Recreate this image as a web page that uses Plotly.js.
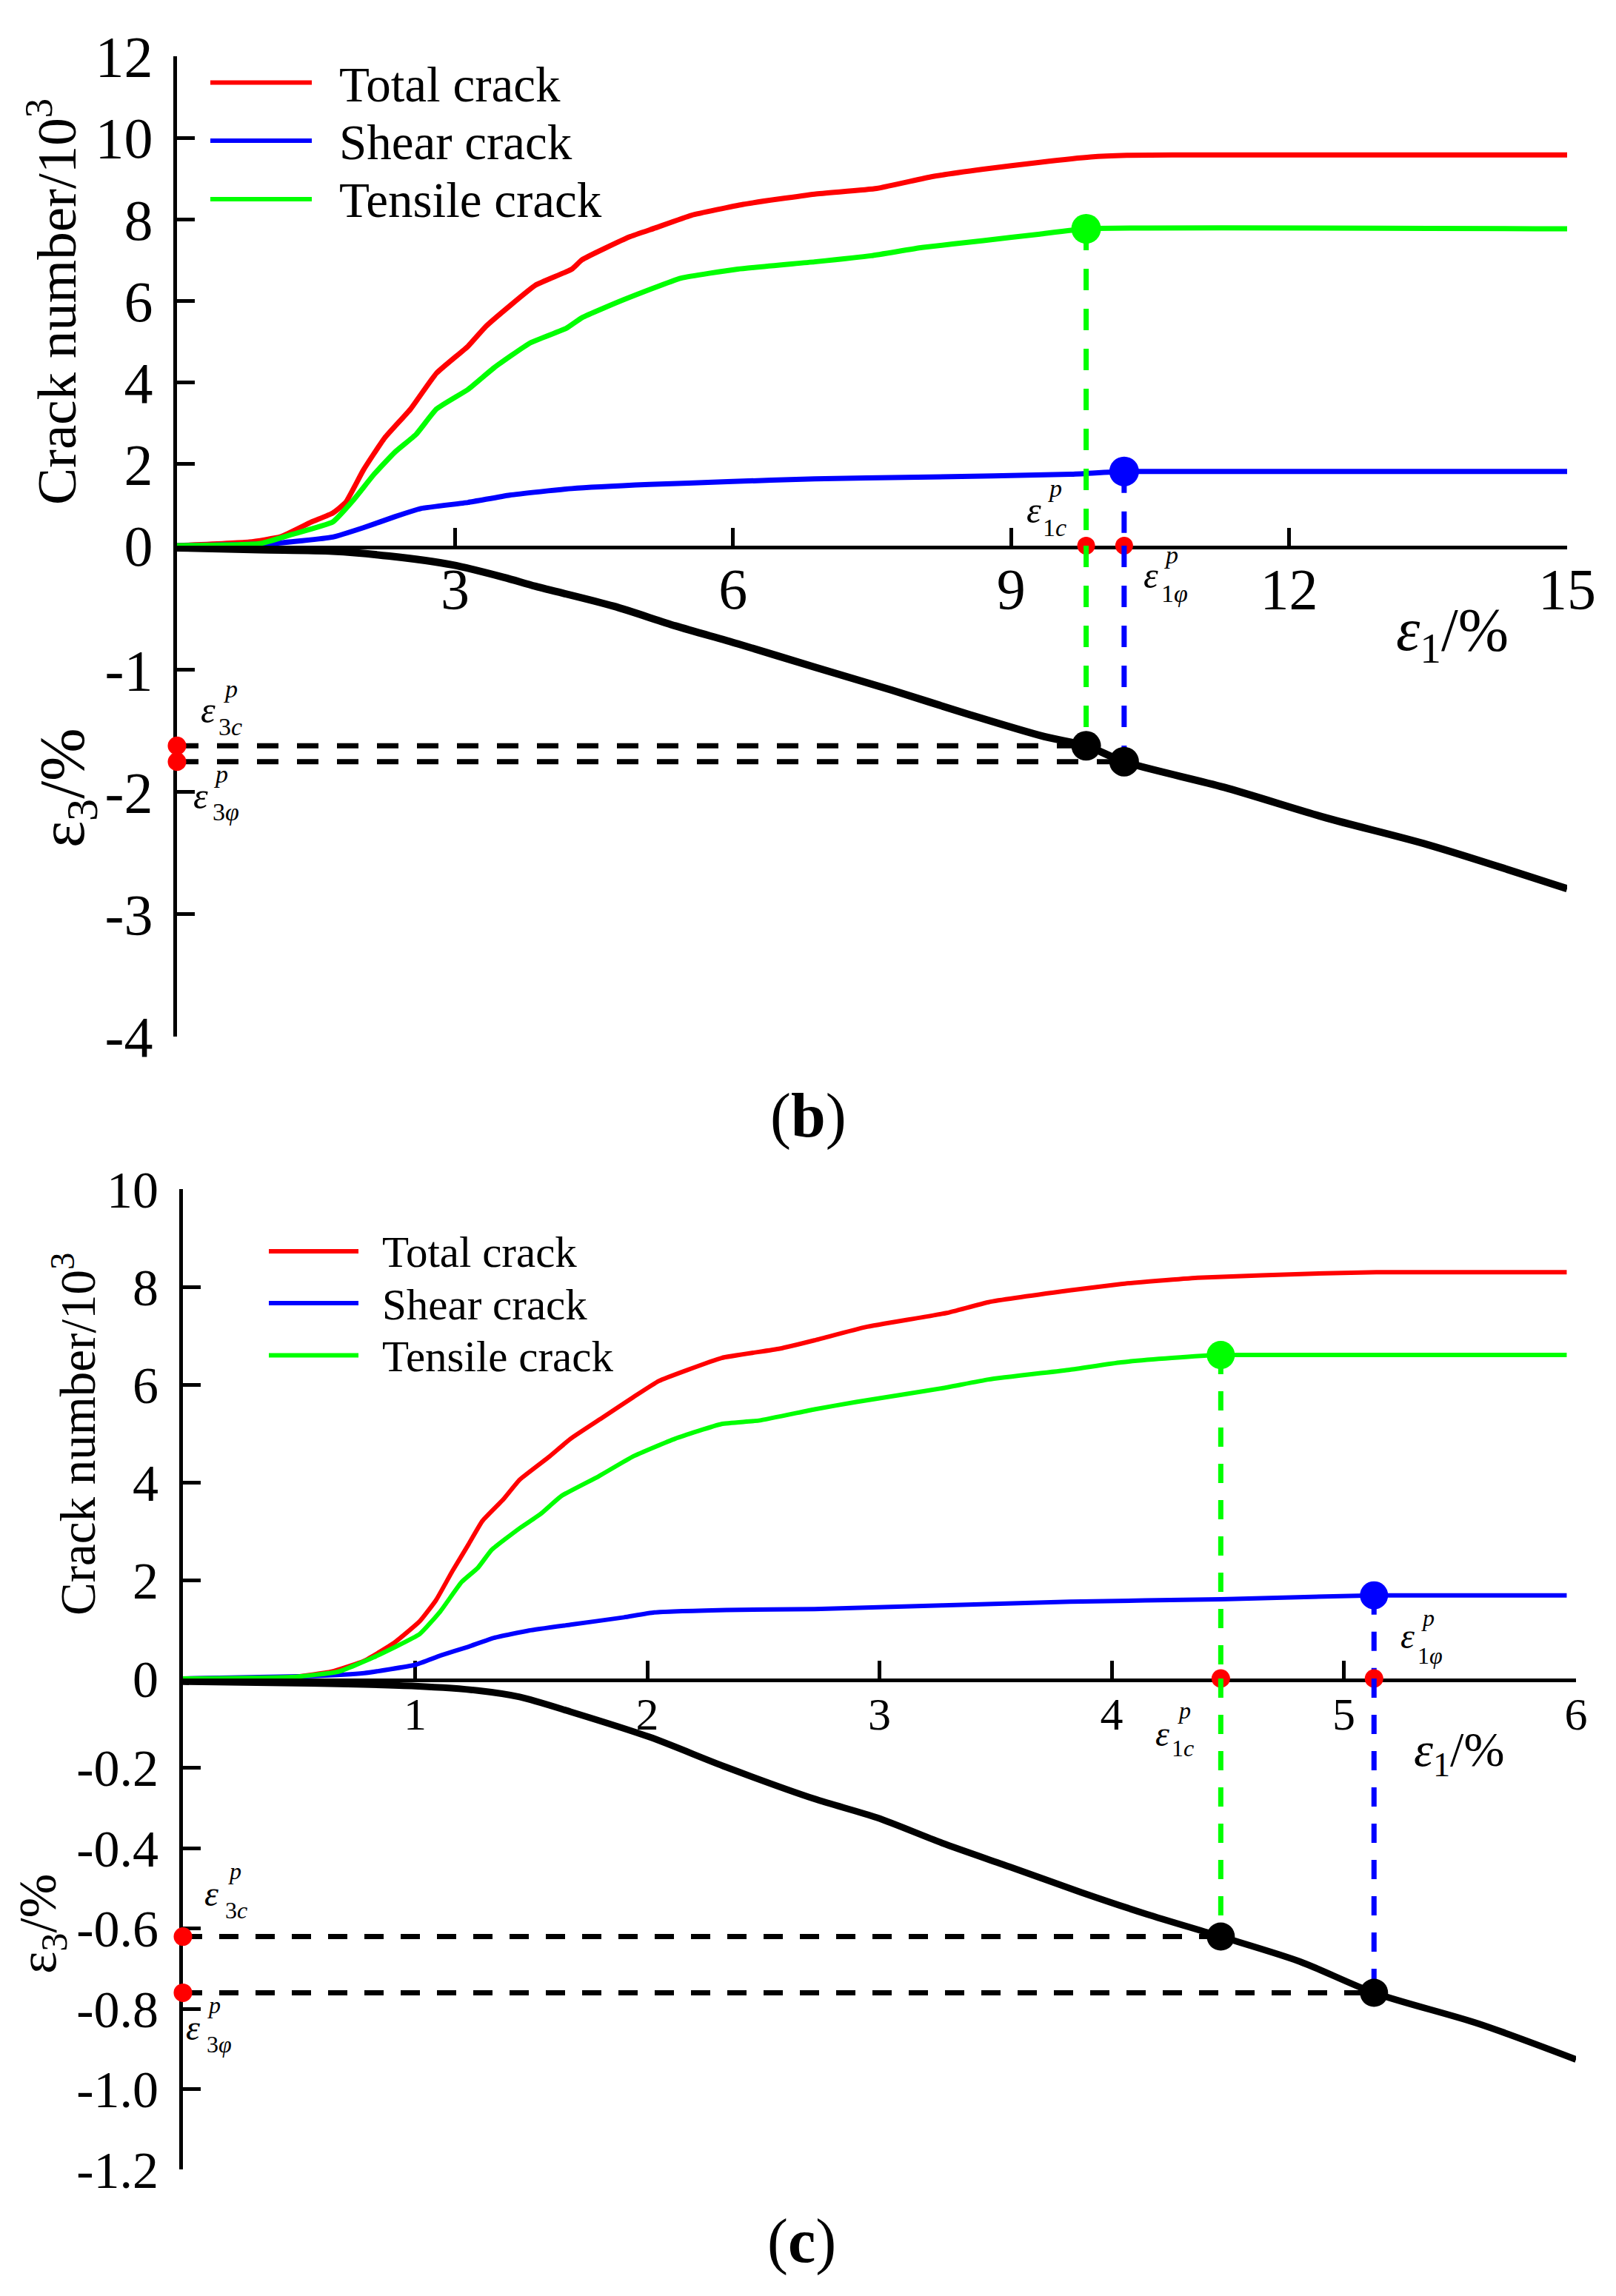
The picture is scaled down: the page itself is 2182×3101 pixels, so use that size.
<!DOCTYPE html>
<html>
<head>
<meta charset="utf-8">
<title>Crack number and lateral strain versus axial strain</title>
<script src="https://cdn.plot.ly/plotly-3.0.1.min.js"></script>
<style>
  html, body { margin: 0; padding: 0; background: #ffffff; }
  #chart { width: 2182px; height: 3101px; }
</style>
</head>
<body>
<div id="chart"></div>
<script>
// ---------- Series names and colours ----------
const seriesNames = ['Total crack', 'Shear crack', 'Tensile crack'];
const seriesColors = ['#ff0000', '#0000ff', '#00ff00'];
const strainColor = '#000000';
const pointColor = '#ff0000';

// ---------- Panel (b): axial strain 0-15 % ----------
const bTotalX = [0, 0.78, 1.12, 1.45, 1.68, 1.82, 2.01, 2.24, 2.52, 2.80, 3.14, 3.33, 3.58, 3.87, 4.26, 4.37, 4.88, 5.16, 5.55, 6.11, 6.88, 7.55, 8.15, 8.70, 9.31, 9.86, 10.25, 10.74, 15.0];
const bTotalY = [0, 0.09, 0.22, 0.58, 0.80, 1.06, 1.85, 2.64, 3.35, 4.23, 4.89, 5.37, 5.86, 6.39, 6.78, 7.01, 7.57, 7.79, 8.10, 8.37, 8.62, 8.76, 9.05, 9.23, 9.40, 9.53, 9.57, 9.58, 9.58];
const bShearX = [0, 1.01, 1.68, 2.01, 2.35, 2.63, 3.14, 3.59, 4.26, 5.10, 5.94, 6.88, 7.99, 9.64, 10.22, 15.0];
const bShearY = [0, 0.05, 0.21, 0.44, 0.71, 0.91, 1.06, 1.24, 1.40, 1.50, 1.57, 1.64, 1.68, 1.75, 1.82, 1.82];
const bTensileX = [0, 0.89, 1.23, 1.68, 1.90, 2.13, 2.35, 2.58, 2.80, 3.14, 3.42, 3.81, 4.20, 4.37, 4.82, 5.44, 6.05, 6.88, 7.49, 8.04, 8.70, 9.31, 9.81, 15.0];
const bTensileY = [0, 0.05, 0.27, 0.58, 1.11, 1.76, 2.29, 2.73, 3.35, 3.83, 4.36, 4.97, 5.33, 5.59, 6.03, 6.56, 6.78, 6.96, 7.11, 7.31, 7.48, 7.64, 7.77, 7.77];
const bStrainX = [0, 0.89, 1.68, 2.29, 2.97, 3.53, 3.87, 4.71, 5.38, 6.05, 6.88, 7.71, 8.54, 9.36, 9.81, 10.22, 11.30, 12.40, 13.50, 15.0];
const bStrainY = [0, -0.016, -0.028, -0.067, -0.139, -0.242, -0.315, -0.477, -0.639, -0.785, -0.976, -1.164, -1.362, -1.545, -1.62, -1.75, -1.96, -2.21, -2.43, -2.79];
// characteristic points (b)
const bE1c = 9.81, bE1phi = 10.22;
const bTensilePeak = 7.77, bShearPeak = 1.82;
const bE3c = -1.62, bE3phi = -1.75;
// ticks (b)
const bAxialTicks = [3, 6, 9, 12, 15];
const bCrackTicks = [0, 2, 4, 6, 8, 10, 12];
const bLateralTicks = [-1, -2, -3, -4];
const bLateralTickText = ['-1', '-2', '-3', '-4'];

// ---------- Panel (c): axial strain 0-6 % ----------
const cTotalX = [0, 0.47, 0.64, 0.78, 0.91, 1.02, 1.09, 1.16, 1.23, 1.29, 1.38, 1.45, 1.58, 1.67, 1.81, 1.94, 2.05, 2.17, 2.32, 2.57, 2.72, 2.94, 3.29, 3.47, 3.82, 4.04, 4.37, 4.92, 5.14, 5.96];
const cTotalY = [0, 0.03, 0.14, 0.36, 0.73, 1.17, 1.60, 2.19, 2.74, 3.22, 3.66, 4.06, 4.54, 4.90, 5.34, 5.75, 6.08, 6.30, 6.55, 6.74, 6.91, 7.18, 7.47, 7.69, 7.93, 8.06, 8.19, 8.28, 8.30, 8.30];
const cShearX = [0, 0.55, 0.78, 1.00, 1.11, 1.23, 1.34, 1.49, 1.67, 1.90, 2.03, 2.34, 2.72, 3.82, 4.47, 5.13, 5.96];
const cShearY = [0, 0.05, 0.11, 0.28, 0.47, 0.65, 0.83, 0.98, 1.10, 1.25, 1.35, 1.40, 1.42, 1.57, 1.62, 1.70, 1.70];
const cTensileX = [0, 0.47, 0.67, 0.82, 1.02, 1.11, 1.20, 1.27, 1.33, 1.45, 1.54, 1.63, 1.79, 1.94, 2.12, 2.32, 2.48, 2.72, 2.90, 3.27, 3.47, 3.82, 4.04, 4.26, 4.47, 5.96];
const cTensileY = [0, 0.03, 0.14, 0.43, 0.91, 1.38, 1.97, 2.26, 2.63, 3.07, 3.36, 3.73, 4.13, 4.54, 4.90, 5.20, 5.27, 5.50, 5.65, 5.93, 6.11, 6.31, 6.46, 6.55, 6.61, 6.61];
const cStrainX = [0, 0.55, 1.00, 1.27, 1.45, 1.67, 2.01, 2.34, 2.72, 2.99, 3.27, 3.56, 3.87, 4.15, 4.47, 4.81, 5.13, 5.58, 6.00];
const cStrainY = [0.015, 0.011, 0.004, -0.007, -0.023, -0.060, -0.123, -0.198, -0.277, -0.324, -0.387, -0.446, -0.510, -0.564, -0.62, -0.682, -0.76, -0.837, -0.926];
// characteristic points (c)
const cE1c = 4.47, cE1phi = 5.13;
const cTensilePeak = 6.61, cShearPeak = 1.70;
const cE3c = -0.62, cE3phi = -0.76;
// ticks (c)
const cAxialTicks = [1, 2, 3, 4, 5, 6];
const cCrackTicks = [0, 2, 4, 6, 8, 10];
const cLateralTicks = [-0.2, -0.4, -0.6, -0.8, -1.0, -1.2];
const cLateralTickText = ['-0.2', '-0.4', '-0.6', '-0.8', '-1.0', '-1.2'];

// ---------- page geometry ----------
const W = 2182, H = 3101;
const px = v => v / W;
const py = v => 1 - v / H;
const FONT = '"Liberation Serif", "Times New Roman", serif';

// upper limits of the lateral-strain axes (the strain origin sits a little below the crack axis)
const bLateralTop = 0.018;
const cLateralTop = 0.0229;

// ---------- trace builders ----------
function curve(x, y, color, width, smooth, xa, ya) {
  return { type: 'scatter', mode: 'lines', x: x, y: y, xaxis: xa, yaxis: ya,
           line: { color: color, width: width, shape: 'spline', smoothing: smooth },
           hoverinfo: 'skip', showlegend: false };
}
function guide(x, y, color, width, dash, xa, ya) {
  return { type: 'scatter', mode: 'lines', x: x, y: y, xaxis: xa, yaxis: ya,
           line: { color: color, width: width, dash: dash }, hoverinfo: 'skip', showlegend: false };
}
function dots(x, y, color, size, xa, ya) {
  return { type: 'scatter', mode: 'markers', x: x, y: y, xaxis: xa, yaxis: ya, cliponaxis: false,
           marker: { color: color, size: size, line: { width: 0 } }, hoverinfo: 'skip', showlegend: false };
}

const traces = [];

// panel (b)
const bDash = '29px,25px';
traces.push(curve(bTotalX, bTotalY, seriesColors[0], 7, 0.4, 'x', 'y'));
traces.push(curve(bShearX, bShearY, seriesColors[1], 7, 0.4, 'x', 'y'));
traces.push(curve(bTensileX, bTensileY, seriesColors[2], 7, 0.4, 'x', 'y'));
traces.push(curve(bStrainX, bStrainY, strainColor, 10, 0.8, 'x', 'y2'));
traces.push(guide([0, bE1c], [bE3c, bE3c], strainColor, 7, bDash, 'x', 'y2'));
traces.push(guide([0, bE1phi], [bE3phi, bE3phi], strainColor, 7, bDash, 'x', 'y2'));
traces.push(guide([bE1c, bE1c], [bTensilePeak, 0], seriesColors[2], 7, bDash, 'x', 'y'));
traces.push(guide([bE1c, bE1c], [bLateralTop, bE3c], seriesColors[2], 7, bDash, 'x', 'y2'));
traces.push(guide([bE1phi, bE1phi], [bShearPeak, 0], seriesColors[1], 7, bDash, 'x', 'y'));
traces.push(guide([bE1phi, bE1phi], [bLateralTop, bE3phi], seriesColors[1], 7, bDash, 'x', 'y2'));
traces.push(dots([bE1c], [bTensilePeak], seriesColors[2], 40, 'x', 'y'));
traces.push(dots([bE1phi], [bShearPeak], seriesColors[1], 40, 'x', 'y'));
traces.push(dots([bE1c, bE1phi], [bE3c, bE3phi], strainColor, 40, 'x', 'y2'));
traces.push(dots([bE1c, bE1phi], [0, 0], pointColor, 24, 'x', 'y'));
traces.push(dots([0, 0], [bE3c, bE3phi], pointColor, 25, 'x', 'y2'));

// panel (c)
const cDash = '26px,23px';
traces.push(curve(cTotalX, cTotalY, seriesColors[0], 6, 0.4, 'x2', 'y3'));
traces.push(curve(cShearX, cShearY, seriesColors[1], 6, 0.4, 'x2', 'y3'));
traces.push(curve(cTensileX, cTensileY, seriesColors[2], 6, 0.4, 'x2', 'y3'));
traces.push(curve(cStrainX, cStrainY, strainColor, 9, 0.8, 'x2', 'y4'));
traces.push(guide([0, cE1c], [cE3c, cE3c], strainColor, 7, cDash, 'x2', 'y4'));
traces.push(guide([0, cE1phi], [cE3phi, cE3phi], strainColor, 7, cDash, 'x2', 'y4'));
traces.push(guide([cE1c, cE1c], [cTensilePeak, 0], seriesColors[2], 7, cDash, 'x2', 'y3'));
traces.push(guide([cE1c, cE1c], [cLateralTop, cE3c], seriesColors[2], 7, cDash, 'x2', 'y4'));
traces.push(guide([cE1phi, cE1phi], [cShearPeak, 0], seriesColors[1], 7, cDash, 'x2', 'y3'));
traces.push(guide([cE1phi, cE1phi], [cLateralTop, cE3phi], seriesColors[1], 7, cDash, 'x2', 'y4'));
traces.push(dots([cE1c], [cTensilePeak], seriesColors[2], 38, 'x2', 'y3'));
traces.push(dots([cE1phi], [cShearPeak], seriesColors[1], 38, 'x2', 'y3'));
traces.push(dots([cE1c, cE1phi], [cE3c, cE3phi], strainColor, 38, 'x2', 'y4'));
traces.push(dots([cE1c, cE1phi], [0, 0], pointColor, 25, 'x2', 'y3'));
traces.push(dots([0, 0], [cE3c, cE3phi], pointColor, 25, 'x2', 'y4'));

// ---------- axes ----------
const axisStyle = {
  showline: true, linecolor: '#000', linewidth: 5,
  ticks: 'inside', ticklen: 24, tickwidth: 5, tickcolor: '#000',
  showgrid: false, zeroline: false, automargin: false, layer: 'below traces',
  fixedrange: true, tickmode: 'array'
};

const layout = {
  width: W, height: H,
  margin: { l: 0, r: 0, t: 0, b: 0 },
  paper_bgcolor: '#ffffff', plot_bgcolor: 'rgba(0,0,0,0)',
  font: { family: FONT, color: '#000' },
  showlegend: false,
  xaxis: Object.assign({}, axisStyle, {
    domain: [px(239), px(2116)], range: [0, 15], anchor: 'y',
    tickvals: bAxialTicks, ticktext: bAxialTicks.map(String),
    tickfont: { family: FONT, size: 78, color: '#000' }, ticklabelstandoff: -14
  }),
  yaxis: Object.assign({}, axisStyle, {
    domain: [py(737), py(76)], range: [0, 12], anchor: 'x',
    tickvals: bCrackTicks, ticktext: bCrackTicks.map(String),
    tickfont: { family: FONT, size: 78, color: '#000' }, ticklabelstandoff: 12
  }),
  yaxis2: Object.assign({}, axisStyle, {
    domain: [py(1400), py(737)], range: [-4, bLateralTop], anchor: 'x',
    tickvals: bLateralTicks, ticktext: bLateralTickText,
    tickfont: { family: FONT, size: 78, color: '#000' }, ticklabelstandoff: 12
  }),
  xaxis2: Object.assign({}, axisStyle, {
    domain: [px(247), px(2128)], range: [0, 6], anchor: 'y3',
    tickvals: cAxialTicks, ticktext: cAxialTicks.map(String),
    tickfont: { family: FONT, size: 62, color: '#000' }, ticklabelstandoff: -10
  }),
  yaxis3: Object.assign({}, axisStyle, {
    domain: [py(2267), py(1606)], range: [0, 10], anchor: 'x2',
    tickvals: cCrackTicks, ticktext: cCrackTicks.map(String),
    tickfont: { family: FONT, size: 70, color: '#000' }, ticklabelstandoff: 14
  }),
  yaxis4: Object.assign({}, axisStyle, {
    domain: [py(2930), py(2267)], range: [-1.2, cLateralTop], anchor: 'x2',
    tickvals: cLateralTicks, ticktext: cLateralTickText,
    tickfont: { family: FONT, size: 70, color: '#000' }, ticklabelstandoff: 14
  }),
  shapes: [],
  annotations: []
};

// ---------- text helpers ----------
function note(text, x, y, size, extra) {
  return Object.assign({
    text: text, xref: 'paper', yref: 'paper', x: px(x), y: py(y),
    xanchor: 'center', yanchor: 'middle', showarrow: false,
    font: { family: FONT, size: size, color: '#000' }
  }, extra || {});
}
// strain symbol with superscript p and a subscript, placed around a data point
function strainSymbol(xr, yr, x, y, sub, off, big, small) {
  const base = { xref: xr, yref: yr, x: x, y: y, showarrow: false,
                 xanchor: 'center', yanchor: 'middle' };
  return [
    Object.assign({}, base, { text: '<i>ε</i>', xshift: off[0], yshift: off[1],
                              font: { family: FONT, size: big, color: '#000' } }),
    Object.assign({}, base, { text: '<i>p</i>', xshift: off[2], yshift: off[3],
                              font: { family: FONT, size: small, color: '#000' } }),
    Object.assign({}, base, { text: sub, xshift: off[4], yshift: off[5],
                              font: { family: FONT, size: small, color: '#000' } })
  ];
}

// legends (drawn as line samples and labels)
function legendBlock(x0, x1, textX, rowsY, textY, size) {
  seriesNames.forEach((name, i) => {
    layout.shapes.push({ type: 'line', xref: 'paper', yref: 'paper',
      x0: px(x0), x1: px(x1), y0: py(rowsY[i]), y1: py(rowsY[i]),
      line: { color: seriesColors[i], width: 6 } });
    layout.annotations.push(note(name, textX, textY[i], size, { xanchor: 'left' }));
  });
}
legendBlock(284, 421, 456, [111.5, 190, 269], [114, 192, 270], 67);
legendBlock(363, 484, 514, [1690, 1760, 1830.5], [1691, 1762, 1832], 59);

// axis titles
layout.annotations.push(note('Crack number/10<sup>3</sup>', 70, 408, 75, { textangle: -90 }));
layout.annotations.push(note('ε<sub>3</sub>/%', 90, 1064, 86, { textangle: -90 }));
layout.annotations.push(note('<i>ε</i><sub>1</sub>/%', 1961, 856, 82));
layout.annotations.push(note('Crack number/10<sup>3</sup>', 100, 1937, 67, { textangle: -90 }));
layout.annotations.push(note('ε<sub>3</sub>/%', 56, 2599, 72, { textangle: -90 }));
layout.annotations.push(note('<i>ε</i><sub>1</sub>/%', 1970, 2367, 66));

// panel labels
layout.annotations.push(note('(<b>b</b>)', 1091, 1507, 84));
layout.annotations.push(note('(<b>c</b>)', 1082, 3027, 84));

// characteristic strain symbols, panel (b)
layout.annotations.push(...strainSymbol('x', 'y', bE1c, 0, '1<i>c</i>', [-71, 48, -42, 78, -43, 25], 50, 34));
layout.annotations.push(...strainSymbol('x', 'y', bE1phi, 0, '1<i>φ</i>', [36, -40, 64, -12, 68, -64], 50, 34));
layout.annotations.push(...strainSymbol('x', 'y2', 0, bE3c, '3<i>c</i>', [42, 48, 72, 77, 72, 26], 50, 34));
layout.annotations.push(...strainSymbol('x', 'y2', 0, bE3phi, '3<i>φ</i>', [32, -46, 59, -17, 66, -68], 50, 34));
// characteristic strain symbols, panel (c)
layout.annotations.push(...strainSymbol('x2', 'y3', cE1c, 0, '1<i>c</i>', [-79, -74, -49, -43, -51, -94], 48, 32));
layout.annotations.push(...strainSymbol('x2', 'y3', cE1phi, 0, '1<i>φ</i>', [45, 58, 73, 82, 76, 31], 48, 32));
layout.annotations.push(...strainSymbol('x2', 'y4', 0, cE3c, '3<i>c</i>', [38, 58, 70, 89, 72, 36], 48, 32));
layout.annotations.push(...strainSymbol('x2', 'y4', 0, cE3phi, '3<i>φ</i>', [13, -47, 42, -17, 49, -70], 48, 32));

Plotly.newPlot('chart', traces, layout, { displayModeBar: false, staticPlot: true });
</script>
</body>
</html>
